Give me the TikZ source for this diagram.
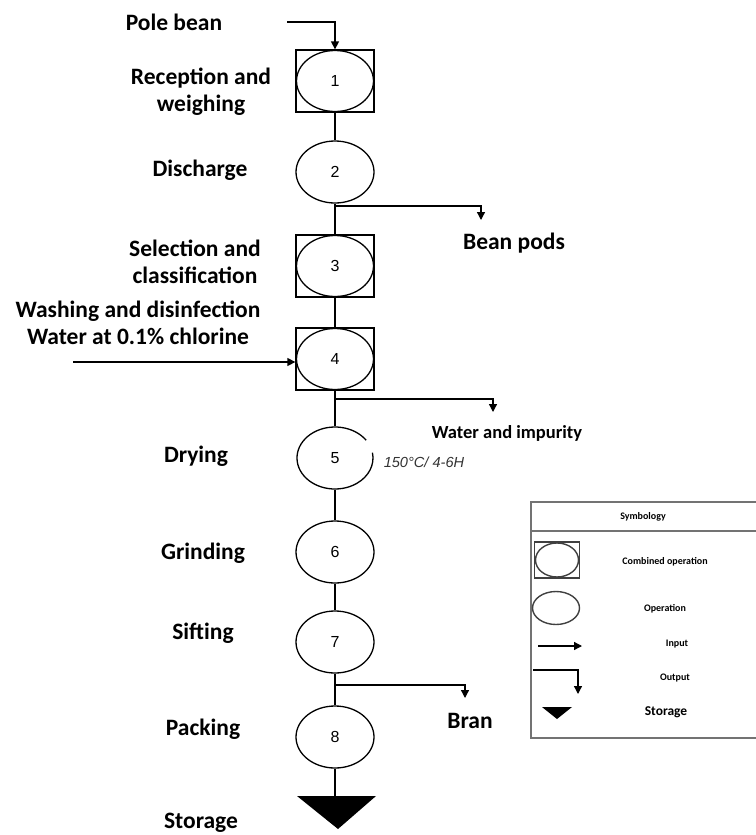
\documentclass[tikz,border=0pt]{standalone}
\usepackage{fontspec}
\setmainfont{Carlito}
\newfontfamily\numfont{Liberation Sans}
\usetikzlibrary{shapes.geometric,arrows.meta,calc}

\begin{document}
\begin{tikzpicture}[x=1pt,y=-1pt,
  every node/.style = {inner sep=0pt},
  op/.style = {ellipse, draw, line width=1.3pt, minimum width=78pt, minimum height=62pt, font=\numfont\fontsize{16}{18}\selectfont},
  opbox/.style = {rectangle, draw, line width=1.3pt, minimum width=78pt, minimum height=62pt, font=\numfont\fontsize{16}{18}\selectfont,
    path picture={\draw[line width=1.3pt] (path picture bounding box.center) ellipse (38.5pt and 30.5pt);}},
  lab/.style = {align=center, font=\bfseries\fontsize{23.5}{27}\selectfont},
  small/.style = {align=center, font=\bfseries\fontsize{10}{12}\selectfont},
  flow/.style = {line width=1.3pt},
  arr/.style = {line width=1.3pt, -{Triangle[length=8pt,width=8pt]}}
]
\useasboundingbox (0,0) rectangle (755,835);

% process steps
\node[opbox] (n1) at (335,81) {1};
\node[op]    (n2) at (335,172) {2};
\node[opbox] (n3) at (335,266) {3};
\node[opbox] (n4) at (335,359) {4};
\node[op, draw=none] (n5) at (335,458) {5};
\node[op]    (n6) at (335,552) {6};
\node[op]    (n7) at (335,642) {7};
\node[op]    (n8) at (335,737) {8};
\draw[line width=1.3pt] ([shift={(35:38pt and 31pt)}]n5.center) arc[start angle=35, end angle=370, x radius=38pt, y radius=31pt];

% storage
\coordinate (st) at (335,796);
\fill (st) ++(-38,0) -- ++(79,0) -- (338,829) -- cycle;

% main line
\draw[flow] (n1) -- (n2);
\draw[flow] (n2) -- (n3);
\draw[flow] (n3) -- (n4);
\draw[flow] (n4) -- (n5);
\draw[flow] (n5) -- (n6);
\draw[flow] (n6) -- (n7);
\draw[flow] (n7) -- (n8);
\draw[flow] (n8) -- (st);

% inputs
\coordinate (in1) at (287,22);
\draw[arr] (in1) -| (n1.north);
\coordinate (in4) at (73,362);
\draw[arr] (in4) -- (in4 -| n4.west);

% outputs
\coordinate (o2) at (335,206);
\coordinate (e2) at (481,220);
\draw[arr] (o2) -| (e2);
\coordinate (o4) at (335,399);
\coordinate (e4) at (493,412);
\draw[arr] (o4) -| (e4);
\coordinate (o7) at (335,685);
\coordinate (e7) at (465,698);
\draw[arr] (o7) -| (e7);

% labels
\node[lab] (l0) at (174,22) {Pole bean};
\node[lab] (l1) at (201,92) {Reception and\\weighing};
\node[lab] (l2) at (200,170) {Discharge};
\node[lab] (l3) at (195,262) {Selection and\\classification};
\node[lab] (l4) at (138,323) {Washing and disinfection\\Water at 0.1\% chlorine};
\node[lab] (l5) at (196,456) {Drying};
\node[lab] (l6) at (203,553) {Grinding};
\node[lab] (l7) at (203,633) {Sifting};
\node[lab] (l8) at (203,729) {Packing};
\node[lab] (l9) at (201,823) {Storage};
\node[lab] (p2) at (514,243) {Bean pods};
\node[lab, font=\bfseries\fontsize{18.5}{20}\selectfont] (p4) at (507,433) {Water and impurity};
\node[font=\numfont\itshape\fontsize{14.6}{16}\selectfont, text=black!80] (t5) at (424,462) {150°C/ 4-6H};
\node[lab] (p7) at (470,721) {Bran};

% symbology
\draw[line width=1.5pt, draw=black!55] (757,502) -- (531,502) -- (531,738) -- (757,738);
\draw[line width=1.5pt, draw=black!55] (531,531) -- (757,531);
\node[small] (s0) at (643,517) {Symbology};
\node[opbox, minimum width=45pt, minimum height=36pt, line width=1.4pt, draw=black!75,
  path picture={\draw[line width=1.4pt, draw=black!75] (path picture bounding box.center) ellipse (21.5pt and 17pt);}] (s1) at (557,560) {};
\node[small] (s1t) at (665,562) {Combined operation};
\node[op, minimum width=47pt, minimum height=33pt, line width=1.4pt, draw=black!75] (s2) at (556,608) {};
\node[small] (s2t) at (665,609) {Operation};
\coordinate (s3a) at (538,646);
\coordinate (s3b) at (582,646);
\draw[arr] (s3a) -- (s3b);
\node[small] (s3t) at (677,644) {Input};
\coordinate (s4a) at (533,670);
\coordinate (s4b) at (578,694);
\draw[arr] (s4a) -| (s4b);
\node[small] (s4t) at (675,678) {Output};
\coordinate (s5) at (557,707);
\fill (s5) ++(-15,0) -- ++(30,0) -- (557,719) -- cycle;
\node[small, font=\bfseries\fontsize{13.5}{15}\selectfont] (s5t) at (666,712) {Storage};
\end{tikzpicture}
\end{document}
